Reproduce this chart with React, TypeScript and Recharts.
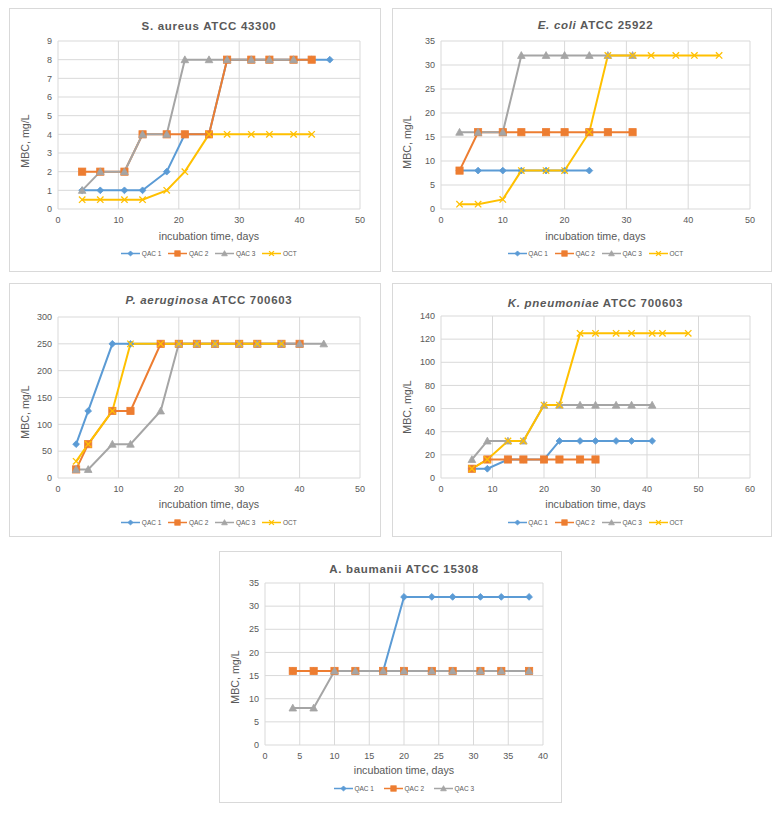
import React from 'react';
import { LineChart, Line, XAxis, YAxis, CartesianGrid } from 'recharts';

// ---------- DATA ----------
const seriesNames = ['QAC 1', 'QAC 2', 'QAC 3', 'OCT'];

// S. aureus ATCC 43300
const saDays = [4, 7, 11, 14, 18, 21, 25, 28, 32, 35, 39, 42, 45];
const saQac1 = [1, 1, 1, 1, 2, 4, 4, 8, 8, 8, 8, 8, 8];
const saQac2 = [2, 2, 2, 4, 4, 4, 4, 8, 8, 8, 8, 8];
const saQac3 = [1, 2, 2, 4, 4, 8, 8, 8, 8, 8, 8];
const saOct = [0.5, 0.5, 0.5, 0.5, 1, 2, 4, 4, 4, 4, 4, 4];

// E. coli ATCC 25922
const ecDays = [3, 6, 10, 13, 17, 20, 24, 27, 31, 34, 38, 41, 45];
const ecQac1 = [8, 8, 8, 8, 8, 8, 8];
const ecQac2 = [8, 16, 16, 16, 16, 16, 16, 16, 16];
const ecQac3 = [16, 16, 16, 32, 32, 32, 32, 32, 32];
const ecOct = [1, 1, 2, 8, 8, 8, 16, 32, 32, 32, 32, 32, 32];

// P. aeruginosa ATCC 700603
const paDays = [3, 5, 9, 12, 17, 20, 23, 26, 30, 33, 37, 40, 44];
const paQac1 = [63, 125, 250, 250, 250, 250, 250, 250, 250, 250, 250, 250];
const paQac2 = [16, 63, 125, 125, 250, 250, 250, 250, 250, 250, 250, 250];
const paQac3 = [16, 16, 63, 63, 125, 250, 250, 250, 250, 250, 250, 250, 250];
const paOct = [31, 63, 125, 250, 250, 250, 250, 250, 250, 250, 250];

// K. pneumoniae ATCC 700603
const kpDays = [6, 9, 13, 16, 20, 23, 27, 30, 34, 37, 41, 43, 48];
const kpQac1 = [8, 8, 16, 16, 16, 32, 32, 32, 32, 32, 32];
const kpQac2 = [8, 16, 16, 16, 16, 16, 16, 16];
const kpQac3 = [16, 32, 32, 32, 63, 63, 63, 63, 63, 63, 63];
const kpOct = [8, 16, 32, 32, 63, 63, 125, 125, 125, 125, 125, 125, 125];

// A. baumanii ATCC 15308
const abDays = [4, 7, 10, 13, 17, 20, 24, 27, 31, 34, 38];
const abQac1 = [16, 16, 16, 16, 16, 32, 32, 32, 32, 32, 32];
const abQac2 = [16, 16, 16, 16, 16, 16, 16, 16, 16, 16, 16];
const abQac3 = [8, 8, 16, 16, 16, 16, 16, 16, 16, 16, 16];

// Axis ticks
const ticks0to50 = [0, 10, 20, 30, 40, 50];
const ticks0to60 = [0, 10, 20, 30, 40, 50, 60];
const ticks0to40 = [0, 5, 10, 15, 20, 25, 30, 35, 40];
const saYTicks = [0, 1, 2, 3, 4, 5, 6, 7, 8, 9];
const ecYTicks = [0, 5, 10, 15, 20, 25, 30, 35];
const paYTicks = [0, 50, 100, 150, 200, 250, 300];
const kpYTicks = [0, 20, 40, 60, 80, 100, 120, 140];
const abYTicks = [0, 5, 10, 15, 20, 25, 30, 35];

// Titles: [italic part, normal part]
const saTitle = ['', 'S. aureus ATCC 43300'];
const ecTitle = ['E. coli', ' ATCC 25922'];
const paTitle = ['P. aeruginosa', ' ATCC 700603'];
const kpTitle = ['K. pneumoniae', ' ATCC 700603'];
const abTitle = ['', 'A. baumanii ATCC 15308'];

const xAxisTitle = 'incubation time, days';
const yAxisTitle = 'MBC, mg/L';

// ---------- STYLE ----------
const COLORS = ['#5B9BD5', '#ED7D31', '#A5A5A5', '#FFC000'];
const MARKERS = ['diamond', 'square', 'triangle', 'cross'];
const TEXT = '#595959';
const FONT = '"Liberation Sans", Arial, sans-serif';

type Pt = { x: number; y: number };
const zip = (days: number[], vals: number[]): Pt[] => vals.map((v, i) => ({ x: days[i], y: v }));

function Marker({ kind, color, cx, cy, s = 1 }: { kind: string; color: string; cx: number; cy: number; s?: number }) {
  if (cx == null || cy == null) return null;
  if (kind === 'diamond') {
    const r = 3.4 * s;
    return <polygon points={`${cx},${cy - r} ${cx + r},${cy} ${cx},${cy + r} ${cx - r},${cy}`} fill={color} stroke={color} strokeWidth={0.8} />;
  }
  if (kind === 'square') {
    const r = 3.6 * s;
    return <rect x={cx - r} y={cy - r} width={2 * r} height={2 * r} fill={color} stroke={color} strokeWidth={0.8} />;
  }
  if (kind === 'triangle') {
    const r = 3.8 * s;
    return <polygon points={`${cx},${cy - r} ${cx + r},${cy + r * 0.8} ${cx - r},${cy + r * 0.8}`} fill={color} stroke={color} strokeWidth={0.8} />;
  }
  const r = 3.2 * s;
  return (
    <g stroke={color} strokeWidth={1.3}>
      <line x1={cx - r} y1={cy - r} x2={cx + r} y2={cy + r} />
      <line x1={cx - r} y1={cy + r} x2={cx + r} y2={cy - r} />
    </g>
  );
}

type PanelCfg = {
  left: number; top: number; w: number; h: number;
  pl: number; pt: number; pr: number; pb: number;
  xMax: number; xTicks: number[]; yMax: number; yTicks: number[];
  title: string[]; series: Pt[][];
  titleY: number; xTitleY: number; yTitleX: number; yTitleY: number; legendY: number; legendGap: number;
};

function Legend({ count, gap }: { count: number; gap: number }) {
  return (
    <div style={{ display: 'flex', justifyContent: 'center', alignItems: 'center', gap }}>
      {seriesNames.slice(0, count).map((n, i) => (
        <div key={n} style={{ display: 'flex', alignItems: 'center' }}>
          <svg width={19} height={9} style={{ display: 'block' }}>
            <line x1={0} y1={4.5} x2={19} y2={4.5} stroke={COLORS[i]} strokeWidth={1.5} />
            <Marker kind={MARKERS[i]} color={COLORS[i]} cx={9.5} cy={4.5} s={0.75} />
          </svg>
          <span style={{ fontSize: 6.5, color: TEXT, marginLeft: 1.5, fontFamily: FONT, whiteSpace: 'nowrap' }}>{n}</span>
        </div>
      ))}
    </div>
  );
}

function Panel({ c }: { c: PanelCfg }) {
  const plotW = c.pr - c.pl;
  return (
    <div style={{ position: 'absolute', left: c.left, top: c.top, width: c.w, height: c.h, border: '1px solid #d9d9d9', boxSizing: 'border-box', background: '#fff' }}>
      <div style={{ position: 'absolute', left: -1, top: -1, width: c.w, height: c.h }}>
        <LineChart width={c.w} height={c.h} margin={{ top: c.pt, right: c.w - c.pr, bottom: 0, left: 0 }}>
          <CartesianGrid stroke="#d9d9d9" strokeWidth={1} />
          <XAxis type="number" dataKey="x" domain={[0, c.xMax]} ticks={c.xTicks} interval={0} height={c.h - c.pb}
            axisLine={false} tickLine={false} tickSize={0} tickMargin={8}
            tick={{ fontSize: 9, fill: TEXT, fontFamily: FONT }} allowDuplicatedCategory={false} />
          <YAxis type="number" dataKey="y" domain={[0, c.yMax]} ticks={c.yTicks} interval={0} width={c.pl}
            axisLine={false} tickLine={false} tickSize={0} tickMargin={6}
            tick={{ fontSize: 9, fill: TEXT, fontFamily: FONT }} />
          {c.series.map((d, i) => (
            <Line key={seriesNames[i]} data={d} dataKey="y" name={seriesNames[i]} type="linear"
              stroke={COLORS[i]} strokeWidth={2} isAnimationActive={false}
              dot={(p: any) => <Marker key={`${i}-${p.index}`} kind={MARKERS[i]} color={COLORS[i]} cx={p.cx} cy={p.cy} />}
              activeDot={false} />
          ))}
        </LineChart>
        <div style={{ position: 'absolute', left: c.pl, width: plotW, top: c.titleY - 8, height: 16, lineHeight: '16px', textAlign: 'center', fontFamily: FONT, fontWeight: 'bold', fontSize: 11.5, letterSpacing: 0.7, color: TEXT, whiteSpace: 'nowrap' }}>
          {c.title[0] ? <i>{c.title[0]}</i> : null}{c.title[1]}
        </div>
        <div style={{ position: 'absolute', left: c.pl, width: plotW, top: c.xTitleY - 8, height: 16, lineHeight: '16px', textAlign: 'center', fontFamily: FONT, fontSize: 10.7, color: TEXT }}>
          {xAxisTitle}
        </div>
        <div style={{ position: 'absolute', left: c.yTitleX - 60, width: 120, top: c.yTitleY - 8, height: 16, lineHeight: '16px', textAlign: 'center', fontFamily: FONT, fontSize: 10.7, color: TEXT, transform: 'rotate(-90deg)' }}>
          {yAxisTitle}
        </div>
        <div style={{ position: 'absolute', left: c.pl, width: plotW, top: c.legendY - 5, height: 10 }}>
          <Legend count={c.series.length} gap={c.legendGap} />
        </div>
      </div>
    </div>
  );
}

const panels: PanelCfg[] = [
  {
    left: 9, top: 8, w: 372, h: 264, pl: 49, pt: 33, pr: 351, pb: 201,
    xMax: 50, xTicks: ticks0to50, yMax: 9, yTicks: saYTicks, title: saTitle,
    series: [zip(saDays, saQac1), zip(saDays, saQac2), zip(saDays, saQac3), zip(saDays, saOct)],
    titleY: 18, xTitleY: 228, yTitleX: 16, yTitleY: 133, legendY: 246, legendGap: 7,
  },
  {
    left: 392, top: 8, w: 380, h: 264, pl: 49, pt: 33, pr: 358, pb: 201,
    xMax: 50, xTicks: ticks0to50, yMax: 35, yTicks: ecYTicks, title: ecTitle,
    series: [zip(ecDays, ecQac1), zip(ecDays, ecQac2), zip(ecDays, ecQac3), zip(ecDays, ecOct)],
    titleY: 17, xTitleY: 228, yTitleX: 15, yTitleY: 134, legendY: 246, legendGap: 7,
  },
  {
    left: 9, top: 283, w: 372, h: 254, pl: 49, pt: 34, pr: 351, pb: 195,
    xMax: 50, xTicks: ticks0to50, yMax: 300, yTicks: paYTicks, title: paTitle,
    series: [zip(paDays, paQac1), zip(paDays, paQac2), zip(paDays, paQac3), zip(paDays, paOct)],
    titleY: 17, xTitleY: 221, yTitleX: 16, yTitleY: 129, legendY: 240, legendGap: 7,
  },
  {
    left: 392, top: 283, w: 380, h: 254, pl: 49, pt: 33, pr: 358, pb: 195,
    xMax: 60, xTicks: ticks0to60, yMax: 140, yTicks: kpYTicks, title: kpTitle,
    series: [zip(kpDays, kpQac1), zip(kpDays, kpQac2), zip(kpDays, kpQac3), zip(kpDays, kpOct)],
    titleY: 20, xTitleY: 221, yTitleX: 15, yTitleY: 124, legendY: 240, legendGap: 7,
  },
  {
    left: 219, top: 551, w: 343, h: 252, pl: 46, pt: 32, pr: 324, pb: 194,
    xMax: 40, xTicks: ticks0to40, yMax: 35, yTicks: abYTicks, title: abTitle,
    series: [zip(abDays, abQac1), zip(abDays, abQac2), zip(abDays, abQac3)],
    titleY: 18, xTitleY: 219, yTitleX: 16, yTitleY: 126, legendY: 238, legendGap: 10,
  },
];

export default function App() {
  return (
    <div style={{ position: 'absolute', left: 0, top: 0, width: 780, height: 815, background: '#fff', fontFamily: FONT }}>
      {panels.map((c, i) => <Panel key={i} c={c} />)}
    </div>
  );
}
